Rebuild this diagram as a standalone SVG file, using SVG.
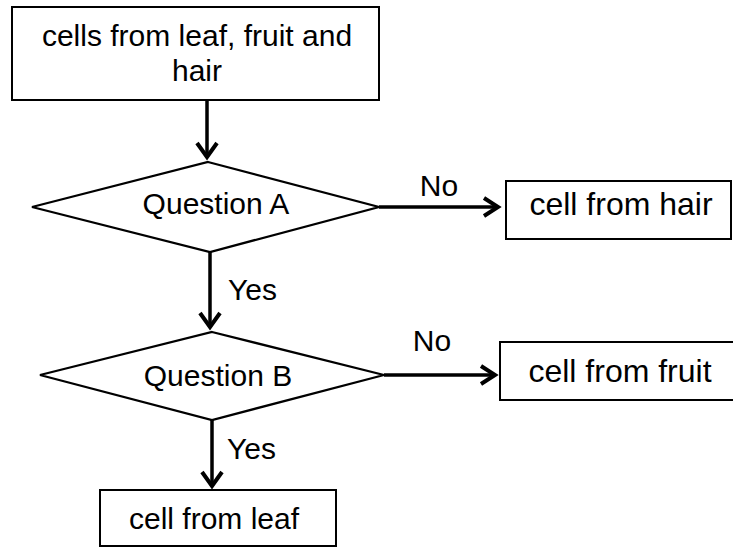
<svg xmlns="http://www.w3.org/2000/svg" width="733" height="552" viewBox="0 0 733 552">
<style>
.box{fill:#fff;stroke:#000;stroke-width:2}
.dia{fill:#fff;stroke:#000;stroke-width:2.2;stroke-linejoin:miter}
.t{font-family:"Liberation Sans",Arial,sans-serif;font-size:30px;fill:#000}
.c{text-anchor:middle}
.ln{stroke:#000;stroke-width:3.5;fill:none}
.hd{stroke:#000;stroke-width:4;fill:none;stroke-linejoin:miter}
</style>
<rect width="733" height="552" fill="#fff"/>
<g id="start">
<rect class="box" x="12" y="7" width="367" height="93"/>
<text class="t c" x="197" y="46">cells from leaf, fruit and</text>
<text class="t c" x="197" y="81">hair</text>
</g>
<g id="questionA">
<polygon class="dia" points="208,162 379,207 210,252 32,207"/>
<text class="t c" x="216" y="214">Question A</text>
</g>
<g id="hair">
<rect class="box" x="506" y="181" width="225" height="58"/>
<text class="t c" x="621" y="215" style="font-size:32px">cell from hair</text>
</g>
<g id="questionB">
<polygon class="dia" points="212,332 384,375 212,420 40,375"/>
<text class="t c" x="218" y="386">Question B</text>
</g>
<g id="fruit">
<rect class="box" x="500" y="342" width="240" height="58"/>
<text class="t c" x="620" y="382" style="font-size:32px">cell from fruit</text>
</g>
<g id="leaf">
<rect class="box" x="100" y="490" width="236" height="56"/>
<text class="t c" x="214" y="529">cell from leaf</text>
</g>
<g id="connectors">
<line class="ln" x1="207" y1="100" x2="207" y2="157"/>
<polyline class="hd" points="197,143 207,157 217,143"/>
<line class="ln" x1="379" y1="207" x2="497" y2="207"/>
<polyline class="hd" points="484,198 498,207 484,216"/>
<text class="t c" x="439" y="196">No</text>
<line class="ln" x1="210" y1="252" x2="210" y2="327"/>
<polyline class="hd" points="200,313 210,327 220,313"/>
<text class="t" x="228" y="300">Yes</text>
<line class="ln" x1="384" y1="375" x2="494" y2="375"/>
<polyline class="hd" points="481,366 495,375 481,384"/>
<text class="t c" x="432" y="351">No</text>
<line class="ln" x1="212" y1="420" x2="212" y2="486"/>
<polyline class="hd" points="202,472 212,486 222,472"/>
<text class="t" x="227" y="459">Yes</text>
</g>
</svg>
